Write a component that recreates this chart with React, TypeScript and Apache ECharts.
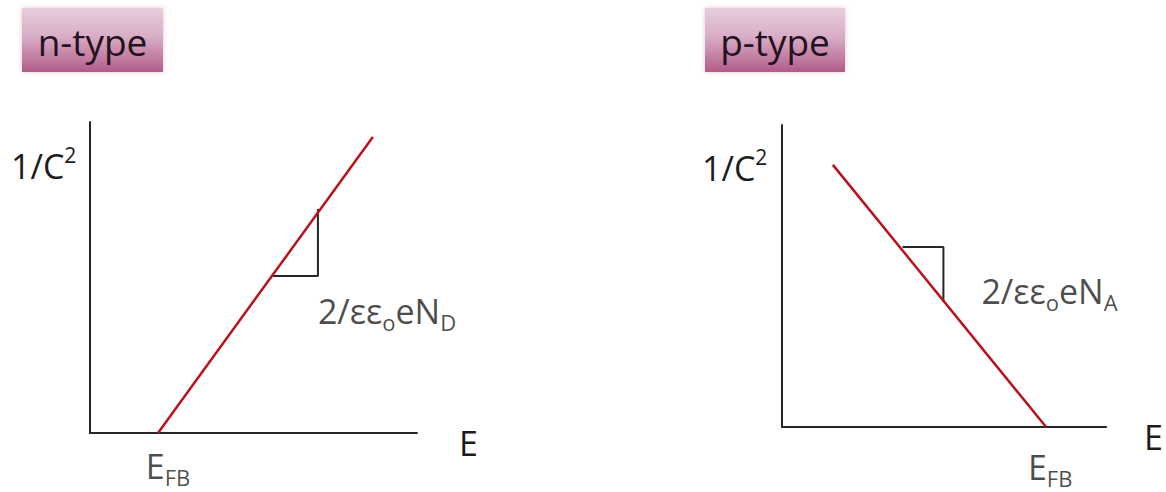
import React, { useEffect, useRef } from 'react';
import * as echarts from 'echarts';

// Shared value range of both sketch axes (arbitrary units)
const axisMin = 0;
const axisMax = 10;

// n-type: 1/C² rises linearly from the flat-band potential
const nTypeLine = [
  [2.08, 0],
  [8.65, 9.52],
];
// slope triangle drawn against the n-type line
const nTypeSlope = [
  [5.6, 5.05],
  [6.97, 5.05],
  [6.97, 7.2],
];

// p-type: 1/C² falls linearly towards the flat-band potential
const pTypeLine = [
  [1.57, 8.68],
  [8.15, 0],
];
// slope triangle drawn against the p-type line
const pTypeSlope = [
  [3.72, 5.96],
  [4.98, 5.96],
  [4.98, 4.14],
];

const panelTitles = ['n-type', 'p-type'];
const yName = '1/C{sup|2}';
const xName = 'E';
const flatBandLabel = 'E{sub|FB}';
const slopeLabels = ['2/εε{sub|o}eN{sub|D}', '2/εε{sub|o}eN{sub|A}'];

const FONT = '"Open Sans", "Noto Sans", sans-serif';
const TEXT = '#1c1c1c';
const AXIS = '#262626';
const RED = '#b8121c';

const rich = {
  sup: { fontSize: 21, fontFamily: FONT, color: TEXT, verticalAlign: 'top', lineHeight: 20 },
  sub: { fontSize: 22, fontFamily: FONT, color: TEXT, verticalAlign: 'bottom', lineHeight: 18 },
};

const mainText = { fontSize: 34, fontFamily: FONT, color: TEXT, lineHeight: 44 };

function makeAxes(gridIndex: number, nameGap: number) {
  const x = {
    type: 'value',
    gridIndex,
    min: axisMin,
    max: axisMax,
    axisLine: { show: true, lineStyle: { color: AXIS, width: 2 } },
    axisTick: { show: false },
    axisLabel: { show: false },
    splitLine: { show: false },
    name: xName,
    nameLocation: 'end',
    nameGap,
    nameTextStyle: { fontSize: 34, fontFamily: FONT, color: TEXT, lineHeight: 20, verticalAlign: 'top' },
  };
  const y = {
    type: 'value',
    gridIndex,
    min: axisMin,
    max: axisMax,
    axisLine: { show: true, lineStyle: { color: AXIS, width: 2 } },
    axisTick: { show: false },
    axisLabel: { show: false },
    splitLine: { show: false },
  };
  return { x, y };
}

function titleBox(left: number, width: number, text: string) {
  return {
    type: 'group',
    children: [
      {
        type: 'rect',
        shape: { x: left, y: 8, width, height: 64 },
        style: {
          fill: new echarts.graphic.LinearGradient(0, 0, 0, 1, [
            { offset: 0, color: '#e6cedd' },
            { offset: 0.45, color: '#d8adc6' },
            { offset: 1, color: '#b25c89' },
          ]),
          shadowBlur: 5,
          shadowColor: 'rgba(170, 90, 130, 0.35)',
        },
      },
      {
        type: 'text',
        x: left + width / 2,
        y: 41,
        style: {
          text,
          font: `37px ${FONT}`,
          fill: '#24121d',
          align: 'center',
          verticalAlign: 'middle',
        },
      },
    ],
  };
}

function yTitle(x: number, y: number) {
  return {
    type: 'text',
    x,
    y,
    style: {
      text: yName,
      rich: { sup: rich.sup },
      font: `34px ${FONT}`,
      fontSize: 34,
      fontFamily: FONT,
      fill: TEXT,
      lineHeight: 44,
      align: 'left',
      verticalAlign: 'middle',
    },
  };
}

export default function App() {
  const ref = useRef<HTMLDivElement>(null);

  useEffect(() => {
    if (!ref.current) return;
    const chart = echarts.init(ref.current, null, { renderer: 'svg' });

    const a0 = makeAxes(0, 42);
    const a1 = makeAxes(1, 38);

    const lineSeries = (idx: number, data: number[][], color: string, width: number) => ({
      type: 'line',
      xAxisIndex: idx,
      yAxisIndex: idx,
      data,
      symbol: 'none',
      silent: true,
      lineStyle: { color, width },
      z: color === RED ? 3 : 2,
    });

    const labelSeries = (idx: number, items: any[]) => ({
      type: 'scatter',
      xAxisIndex: idx,
      yAxisIndex: idx,
      symbolSize: 0,
      silent: true,
      data: items,
    });

    const option = {
      animation: false,
      grid: [
        { left: 90, top: 122, width: 327, height: 311 },
        { left: 782, top: 125, width: 325, height: 302 },
      ],
      xAxis: [a0.x, a1.x],
      yAxis: [a0.y, a1.y],
      series: [
        lineSeries(0, nTypeSlope, AXIS, 2),
        lineSeries(0, nTypeLine, RED, 2.5),
        lineSeries(1, pTypeSlope, AXIS, 2),
        lineSeries(1, pTypeLine, RED, 2.5),
        labelSeries(0, [
          {
            value: nTypeLine[0],
            label: {
              show: true,
              formatter: flatBandLabel,
              position: 'bottom',
              distance: 11,
              offset: [10, 0],
              ...mainText,
              rich,
            },
          },
          {
            value: nTypeSlope[1],
            label: {
              show: true,
              formatter: slopeLabels[0],
              position: [0, 35],
              align: 'left',
              verticalAlign: 'middle',
              ...mainText,
              rich,
            },
          },
        ]),
        labelSeries(1, [
          {
            value: pTypeLine[1],
            label: {
              show: true,
              formatter: flatBandLabel,
              position: 'bottom',
              distance: 18,
              offset: [4, 0],
              ...mainText,
              rich,
            },
          },
          {
            value: pTypeSlope[2],
            label: {
              show: true,
              formatter: slopeLabels[1],
              position: [38, -11],
              align: 'left',
              verticalAlign: 'middle',
              ...mainText,
              rich,
            },
          },
        ]),
      ],
      graphic: [
        titleBox(22, 141, panelTitles[0]),
        titleBox(705, 140, panelTitles[1]),
        yTitle(11, 166),
        yTitle(702, 168),
      ],
    };

    chart.setOption(option as any);
    return () => chart.dispose();
  }, []);

  return (
    <div
      ref={ref}
      style={{ position: 'fixed', left: 0, top: 0, width: 1166, height: 492, background: '#ffffff' }}
    />
  );
}
